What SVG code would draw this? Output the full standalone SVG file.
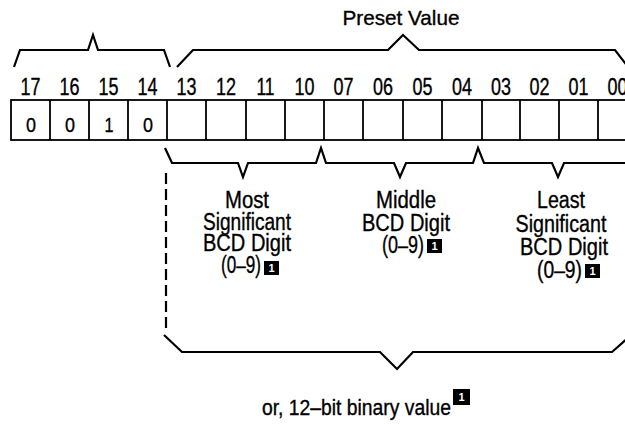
<svg xmlns="http://www.w3.org/2000/svg" width="625" height="425" viewBox="0 0 625 425">
<style>
text{font-family:"Liberation Sans",Arial,sans-serif;fill:#000;stroke:#000;stroke-width:0.35}
.bit{font-size:23px;text-anchor:middle}
.val{font-size:21px;text-anchor:middle}
.lbl{font-size:23px;text-anchor:middle}
.end{font-size:23px;text-anchor:end}
.cell{fill:#fff;stroke:#000;stroke-width:1.8}
.brace{fill:none;stroke:#000;stroke-width:2.2;stroke-linejoin:miter}
.dash{fill:none;stroke:#000;stroke-width:2.2;stroke-dasharray:11 5}
.fn{fill:#000}
.fnt{font-size:11px;font-weight:bold;fill:#fff;stroke:none;text-anchor:middle}
</style>
<rect width="625" height="425" fill="#fff"/>
<g id="title"><text x="401" y="25" style="font-size:21px;text-anchor:middle" textLength="117" lengthAdjust="spacingAndGlyphs">Preset Value</text></g>
<g id="register">
<rect class="cell" x="11" y="100" width="626" height="40"/>
<g stroke="#000" stroke-width="1.8">
<line x1="50" y1="100" x2="50" y2="140"/><line x1="89" y1="100" x2="89" y2="140"/><line x1="128" y1="100" x2="128" y2="140"/><line x1="167" y1="100" x2="167" y2="140"/><line x1="206" y1="100" x2="206" y2="140"/><line x1="246" y1="100" x2="246" y2="140"/><line x1="285" y1="100" x2="285" y2="140"/><line x1="324" y1="100" x2="324" y2="140"/><line x1="363" y1="100" x2="363" y2="140"/><line x1="403" y1="100" x2="403" y2="140"/><line x1="442" y1="100" x2="442" y2="140"/><line x1="482" y1="100" x2="482" y2="140"/><line x1="520" y1="100" x2="520" y2="140"/><line x1="559" y1="100" x2="559" y2="140"/><line x1="598" y1="100" x2="598" y2="140"/>
</g>
<text class="bit" x="30.5" y="95" textLength="20" lengthAdjust="spacingAndGlyphs">17</text><text class="bit" x="69.5" y="95" textLength="20" lengthAdjust="spacingAndGlyphs">16</text><text class="bit" x="108.5" y="95" textLength="20" lengthAdjust="spacingAndGlyphs">15</text><text class="bit" x="147.5" y="95" textLength="20" lengthAdjust="spacingAndGlyphs">14</text><text class="bit" x="186.5" y="95" textLength="20" lengthAdjust="spacingAndGlyphs">13</text><text class="bit" x="226" y="95" textLength="20" lengthAdjust="spacingAndGlyphs">12</text><text class="bit" x="265.5" y="95" textLength="18" lengthAdjust="spacingAndGlyphs">11</text><text class="bit" x="304.5" y="95" textLength="20" lengthAdjust="spacingAndGlyphs">10</text><text class="bit" x="343.5" y="95" textLength="20" lengthAdjust="spacingAndGlyphs">07</text><text class="bit" x="383" y="95" textLength="20" lengthAdjust="spacingAndGlyphs">06</text><text class="bit" x="422.5" y="95" textLength="20" lengthAdjust="spacingAndGlyphs">05</text><text class="bit" x="462" y="95" textLength="20" lengthAdjust="spacingAndGlyphs">04</text><text class="bit" x="501" y="95" textLength="20" lengthAdjust="spacingAndGlyphs">03</text><text class="bit" x="539.5" y="95" textLength="20" lengthAdjust="spacingAndGlyphs">02</text><text class="bit" x="578.5" y="95" textLength="20" lengthAdjust="spacingAndGlyphs">01</text><text class="bit" x="617.5" y="95" textLength="20" lengthAdjust="spacingAndGlyphs">00</text>
<text class="val" x="31" y="132" textLength="10" lengthAdjust="spacingAndGlyphs">0</text><text class="val" x="70" y="132" textLength="10" lengthAdjust="spacingAndGlyphs">0</text><text class="val" x="109" y="132" textLength="9" lengthAdjust="spacingAndGlyphs">1</text><text class="val" x="148" y="132" textLength="10" lengthAdjust="spacingAndGlyphs">0</text>
</g>
<g id="connectors">
<path class="brace" d="M14,67 L20,50 L88,50 L93,35 L98,50 L164,50 L170,67"/>
<path class="brace" d="M177,67 L193,50 L388,50 L403,35 L419,50 L615,50 L632,72"/>
<path class="brace" d="M165,148 L172,163 L238,163 L243,177 L248,163 L316,163 L321,148 L326,163 L394,163 L400,177 L406,163 L473,163 L478,148 L484,163 L552,163 L558,177 L564,163 L630,163"/>
<path class="dash" d="M166,173 L166,331"/>
<path class="brace" d="M164,335 L182,352 L380,352 L397,369 L413,352 L612,352 L630,336"/>
</g>
<g id="most">
<text class="lbl" x="247" y="208" textLength="44" lengthAdjust="spacingAndGlyphs">Most</text>
<text class="lbl" x="247" y="229.5" textLength="88" lengthAdjust="spacingAndGlyphs">Significant</text>
<text class="lbl" x="247" y="251" textLength="88" lengthAdjust="spacingAndGlyphs">BCD Digit</text>
<text class="end" x="261" y="272.5" textLength="40" lengthAdjust="spacingAndGlyphs">(0–9)</text>
<rect class="fn" x="264" y="261" width="15" height="14"/><text class="fnt" x="271.5" y="272">1</text>
</g>
<g id="middle">
<text class="lbl" x="406" y="208" textLength="60" lengthAdjust="spacingAndGlyphs">Middle</text>
<text class="lbl" x="406" y="230.5" textLength="88" lengthAdjust="spacingAndGlyphs">BCD Digit</text>
<text class="end" x="424" y="252.5" textLength="42" lengthAdjust="spacingAndGlyphs">(0–9)</text>
<rect class="fn" x="427" y="239" width="15" height="14"/><text class="fnt" x="434.5" y="250">1</text>
</g>
<g id="least">
<text class="lbl" x="561" y="208" textLength="48" lengthAdjust="spacingAndGlyphs">Least</text>
<text class="lbl" x="561" y="231.5" textLength="91" lengthAdjust="spacingAndGlyphs">Significant</text>
<text class="lbl" x="564" y="255" textLength="88" lengthAdjust="spacingAndGlyphs">BCD Digit</text>
<text class="end" x="582" y="278" textLength="45" lengthAdjust="spacingAndGlyphs">(0–9)</text>
<rect class="fn" x="585" y="264" width="15" height="14"/><text class="fnt" x="592.5" y="275">1</text>
</g>
<g id="binary">
<text x="262" y="415" style="font-size:22px" textLength="189" lengthAdjust="spacingAndGlyphs">or, 12–bit binary value</text>
<rect class="fn" x="453" y="389" width="17" height="16"/><text class="fnt" x="461.5" y="401">1</text>
</g>
</svg>
